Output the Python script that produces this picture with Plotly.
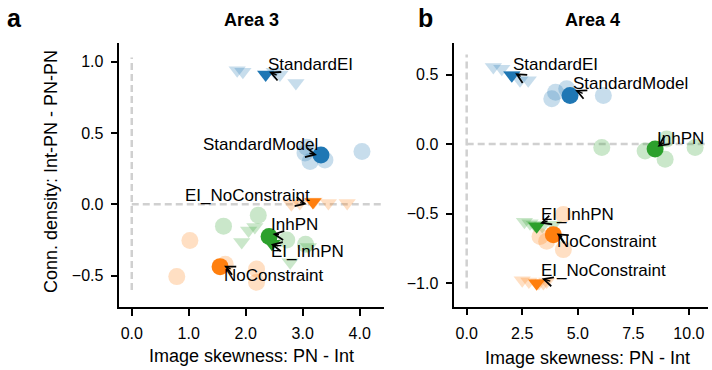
import plotly.graph_objects as go

FONT = "Liberation Sans, Arial, sans-serif"
BLUE, ORANGE, GREEN = "#1f77b4", "#ff7f0e", "#2ca02c"

# ---------------- Data: Area 3 (panel a) ----------------
# model: (color, symbol, faded x, faded y, mean x, mean y)
a_models = {
    "StandardEI":      (BLUE,   "triangle-down",
                        [1.85, 1.95, 2.50, 2.60, 2.88], [0.94, 0.93, 0.93, 0.91, 0.85], 2.35, 0.91),
    "StandardModel":   (BLUE,   "circle",
                        [3.04, 3.07, 3.13, 3.39, 4.04], [0.36, 0.40, 0.30, 0.31, 0.37], 3.32, 0.345),
    "EI_NoConstraint": (ORANGE, "triangle-down",
                        [2.80, 2.95, 3.20, 3.45, 3.78], [0.00, 0.01, 0.02, 0.01, 0.01], 3.18, 0.016),
    "InhPN":           (GREEN,  "circle",
                        [1.61, 2.22, 2.72, 3.05], [-0.153, -0.077, -0.25, -0.28], 2.41, -0.225),
    "EI_InhPN":        (GREEN,  "triangle-down",
                        [1.93, 2.05, 2.16, 2.78, 3.10], [-0.265, -0.183, -0.16, -0.406, -0.30], 2.46, -0.277),
    "NoConstraint":    (ORANGE, "circle",
                        [0.79, 1.02, 1.64, 2.19, 2.19], [-0.507, -0.254, -0.42, -0.453, -0.547], 1.55, -0.437),
}
# label: text x, text y, arrow head x, arrow head y, tail dx px, tail dy px
a_labels = {
    "StandardEI":      (3.14, 0.977, 2.41, 0.93, 9, 4),
    "StandardModel":   (2.26, 0.416, 3.25, 0.346, -9, -2),
    "EI_NoConstraint": (2.03, 0.065, 3.07, 0.0, -8, -2),
    "InhPN":           (2.86, -0.145, 2.47, -0.208, 8, 1),
    "EI_InhPN":        (3.08, -0.333, 2.44, -0.28, 9, 2),
    "NoConstraint":    (2.49, -0.496, 1.62, -0.43, 8, 4),
}

# ---------------- Data: Area 4 (panel b) ----------------
b_models = {
    "StandardEI":      (BLUE,   "triangle-down",
                        [1.20, 1.58, 2.05, 2.40, 2.77], [0.555, 0.543, 0.50, 0.459, 0.459], 2.03, 0.495),
    "StandardModel":   (BLUE,   "circle",
                        [3.83, 4.00, 4.50, 6.15], [0.326, 0.374, 0.398, 0.35], 4.65, 0.35),
    "InhPN":           (GREEN,  "circle",
                        [6.08, 8.03, 8.93, 9.00, 10.28], [-0.025, -0.049, -0.109, 0.036, -0.025], 8.48, -0.036),
    "EI_InhPN":        (GREEN,  "triangle-down",
                        [2.60, 2.85, 3.05, 3.40, 3.90], [-0.56, -0.57, -0.58, -0.59, -0.58], 3.15, -0.592),
    "NoConstraint":    (ORANGE, "circle",
                        [3.30, 3.60, 4.35, 4.35], [-0.665, -0.70, -0.507, -0.76], 3.90, -0.652),
    "EI_NoConstraint": (ORANGE, "triangle-down",
                        [2.50, 2.80, 3.25, 3.45, 3.60], [-0.98, -0.99, -1.00, -1.00, -0.99], 3.15, -1.003),
}
b_labels = {
    "StandardEI":      (4.00, 0.57, 2.18, 0.51, 7, 4),
    "StandardModel":   (7.38, 0.438, 4.88, 0.39, 9, 4),
    "InhPN":           (9.61, 0.043, 8.59, -0.02, 7, -5),
    "EI_InhPN":        (4.99, -0.505, 3.30, -0.572, 9, -3),
    "NoConstraint":    (6.30, -0.704, 4.05, -0.644, 7, 4),
    "EI_NoConstraint": (6.14, -0.908, 3.38, -0.968, 10, 3),
}

a_xticks = [0, 1, 2, 3, 4]
a_yticks = [-0.5, 0.0, 0.5, 1.0]
b_xticks = [0, 2.5, 5, 7.5, 10]
b_yticks = [-1.0, -0.5, 0.0, 0.5]

fig = go.Figure()

def add_panel(models, labels, xa, ya):
    xref = "x" if xa == "xaxis" else "x2"
    yref = "y" if ya == "yaxis" else "y2"
    for name, (col, sym, fx, fy, mx, my) in models.items():
        sz = 17 if sym == "circle" else 15
        fig.add_trace(go.Scatter(x=fx, y=fy, mode="markers", xaxis=xref, yaxis=yref,
                                 marker=dict(color=col, symbol=sym, size=sz, opacity=0.25,
                                             line=dict(width=0)),
                                 showlegend=False, hoverinfo="skip"))
    for name, (col, sym, fx, fy, mx, my) in models.items():
        sz = 17 if sym == "circle" else 15
        fig.add_trace(go.Scatter(x=[mx], y=[my], mode="markers", xaxis=xref, yaxis=yref,
                                 marker=dict(color=col, symbol=sym, size=sz, opacity=1,
                                             line=dict(width=0)),
                                 showlegend=False, name=name))
    for name, (tx, ty, hx, hy, dx, dy) in labels.items():
        fig.add_annotation(x=hx, y=hy, xref=xref, yref=yref, text="", showarrow=True,
                           ax=dx, ay=dy, arrowhead=5, arrowsize=1.3, arrowwidth=1.4,
                           arrowcolor="black", standoff=0, startstandoff=0)
        fig.add_annotation(x=tx, y=ty, xref=xref, yref=yref, text=name, showarrow=False,
                           font=dict(family=FONT, size=17, color="black"))

add_panel(a_models, a_labels, "xaxis", "yaxis")
add_panel(b_models, b_labels, "xaxis2", "yaxis2")

# dashed reference lines
DASH = dict(color="#d0d0d0", width=2.5, dash="7px,4px")
fig.add_shape(type="line", xref="x", yref="y", x0=0, x1=0, y0=-0.6, y1=1.03, line=DASH, layer="below")
fig.add_shape(type="line", xref="x", yref="y", x0=0, x1=4.4, y0=0, y1=0, line=DASH, layer="below")
fig.add_shape(type="line", xref="x2", yref="y2", x0=0, x1=0, y0=-1.04, y1=0.645, line=DASH, layer="below")
fig.add_shape(type="line", xref="x2", yref="y2", x0=0, x1=10.86, y0=0, y1=0, line=DASH, layer="below")

ax_common = dict(showline=True, linecolor="black", linewidth=1.5, ticks="outside",
                 ticklen=7, tickwidth=1.5, tickcolor="black", showgrid=False, zeroline=False,
                 tickfont=dict(family=FONT, size=16, color="black"), tickformat=".1f",
                 ticklabelstandoff=4)

fig.update_layout(
    width=712, height=370, margin=dict(l=0, r=0, t=0, b=0),
    paper_bgcolor="white", plot_bgcolor="white",
    xaxis=dict(domain=[0.1676, 0.5393], range=[-0.218, 4.426], tickvals=a_xticks, anchor="y", **ax_common),
    yaxis=dict(domain=[0.1695, 0.8838], range=[-0.722, 1.131], tickvals=a_yticks, anchor="x", **ax_common),
    xaxis2=dict(domain=[0.638, 0.9944], range=[-0.559, 10.86], tickvals=b_xticks, anchor="y2", **ax_common),
    yaxis2=dict(domain=[0.1711, 0.883], range=[-1.171, 0.726], tickvals=b_yticks, anchor="x2", **ax_common),
)

def paper_text(x, y, text, size, bold=False, angle=0):
    fig.add_annotation(x=x / 712, y=1 - y / 370, xref="paper", yref="paper", text=text,
                       showarrow=False, textangle=angle, xanchor="center", yanchor="middle",
                       font=dict(family=FONT, size=size, color="black",
                                 weight="bold" if bold else "normal"))

paper_text(252, 20, "Area 3", 18, bold=True)
paper_text(592, 20, "Area 4", 18, bold=True)
paper_text(14, 18, "a", 25, bold=True)
paper_text(425, 18, "b", 25, bold=True)
paper_text(251, 356, "Image skewness: PN - Int", 18)
paper_text(587, 358, "Image skewness: PN - Int", 18)
paper_text(51, 172, "Conn. density: Int-PN - PN-PN", 18, angle=-90)

fig.write_html("out.html")
